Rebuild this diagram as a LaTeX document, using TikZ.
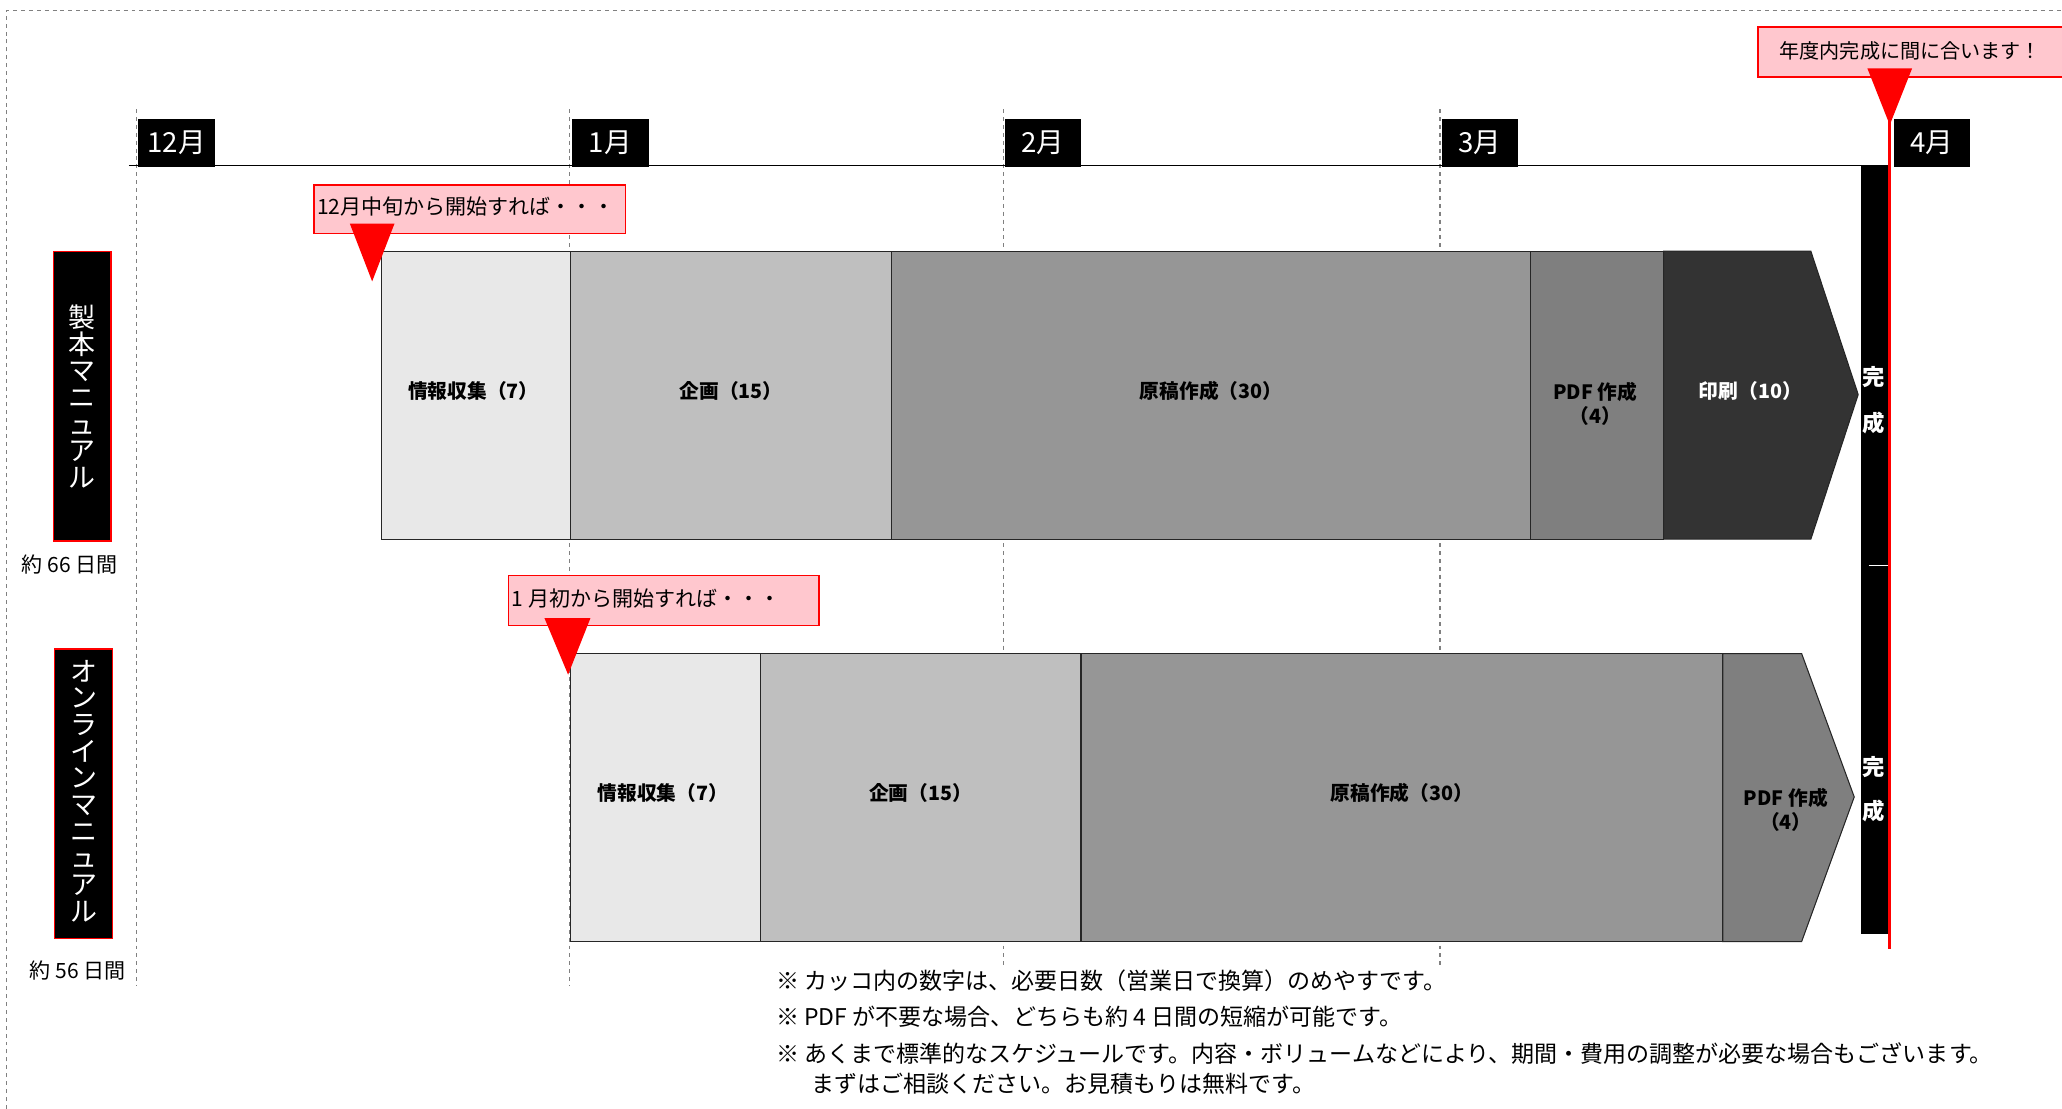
\documentclass[tikz,border=0pt]{standalone}
\usepackage{fontspec}
\setmainfont{Noto Sans CJK JP}
\definecolor{pinkc}{HTML}{FFC7CE}
\definecolor{cA}{HTML}{E8E8E8}
\definecolor{cB}{HTML}{BFBFBF}
\definecolor{cC}{HTML}{969696}
\definecolor{cD}{HTML}{7F7F7F}
\definecolor{cE}{HTML}{333333}
\definecolor{edgec}{HTML}{262626}
\definecolor{redc}{HTML}{FF0000}
\begin{document}
\begin{tikzpicture}[x=1pt,y=-1pt,
  month/.style={fill=black,text=white,minimum width=58pt,minimum height=37pt,inner sep=0pt,anchor=north west,font=\fontsize{21}{21}\selectfont},
  callbox/.style={fill=pinkc,draw=redc,line width=1.3pt,inner sep=0pt,anchor=north west},
  calltext/.style={font=\fontsize{16}{16}\selectfont,anchor=west,inner sep=0pt},
  seg/.style={draw=edgec,line width=0.8pt},
  lbl/.style={font=\bfseries\fontsize{15}{18}\selectfont,align=center,inner sep=0pt},
  guide/.style={draw=gray,dashed,line width=1pt},
  side/.style={fill=black,draw=redc,line width=1pt,minimum width=44pt,inner sep=0pt,anchor=north west},
  sidetext/.style={text=white,align=center,font=\fontsize{20.5}{20.3}\selectfont,inner sep=0pt},
  days/.style={font=\fontsize{16}{16}\selectfont,inner sep=0pt},
  note/.style={font=\fontsize{17.5}{17.5}\selectfont,anchor=west,inner sep=0pt},
  donetext/.style={text=white,font=\bfseries\fontsize{17}{17}\selectfont,inner sep=0pt}]
\useasboundingbox (0,0) rectangle (1568,843);
% outer frame
\draw[dashed,gray,line width=0.8pt] (5,843) -- (5,8) -- (1568,8);
% guides
\draw[guide] (104,83) -- (104,750);
\draw[guide] (433,83) -- (433,750);
\draw[guide] (763,83) -- (763,735);
\draw[guide] (1095,83) -- (1095,735);
% axis
\coordinate (axL) at (98,126);
\coordinate (axR) at (1437,126);
\draw[line width=1pt] (axL) -- (axR);
% months
\node[month] (m12) at (105,90) {12月};
\node[month] (m1) at (435,90) {1月};
\node[month] (m2) at (764,90) {2月};
\node[month] (m3) at (1096,90) {3月};
\node[month] (m4) at (1440,90) {4月};
% upper bar
\filldraw[seg,fill=cA] (290,191) rectangle (434,410);
\filldraw[seg,fill=cB] (434,191) rectangle (678,410);
\filldraw[seg,fill=cC] (678,191) rectangle (1164,410);
\filldraw[seg,fill=cD] (1164,191) rectangle (1265,410);
\filldraw[seg,fill=cE] (1265,191) -- (1377,191) -- (1413,300) -- (1377,410) -- (1265,410) -- cycle;
\node[lbl] (u1) at (360,297) {情報収集（7）};
\node[lbl] (u2) at (556,297) {企画（15）};
\node[lbl] (u3) at (921,297) {原稿作成（30）};
\node[lbl] (u4) at (1213,307) {PDF 作成\\（4）};
\node[lbl,text=white] (u5) at (1331,297) {印刷（10）};
% lower bar
\filldraw[seg,fill=cA] (434,497) rectangle (578,716);
\filldraw[seg,fill=cB] (578,497) rectangle (822,716);
\filldraw[seg,fill=cC] (822,497) rectangle (1310,716);
\filldraw[seg,fill=cD] (1310,497) -- (1370,497) -- (1410,606) -- (1370,716) -- (1310,716) -- cycle;
\node[lbl] (l1) at (504,603) {情報収集（7）};
\node[lbl] (l2) at (700,603) {企画（15）};
\node[lbl] (l3) at (1066,603) {原稿作成（30）};
\node[lbl] (l4) at (1358,616) {PDF 作成\\（4）};
% completion bar
\fill[black] (1415,126) rectangle (1437,710);
\draw[white,line width=1pt] (1421,430) -- (1436,430);
\node[donetext] (d1) at (1425,287) {完};
\node[donetext] (d2) at (1425,322) {成};
\node[donetext] (d3) at (1425,583) {完};
\node[donetext] (d4) at (1425,617) {成};
% red line
\draw[redc,line width=2.5pt] (1437,90) -- (1437,722);
% callouts
\node[callbox,minimum width=237pt,minimum height=37pt] (c1) at (238,140) {};
\node[calltext] (c1t) at (241,157) {12月中旬から開始すれば・・・};
\fill[redc] (266,170) -- (300,170) -- (283,214) -- cycle;
\node[callbox,minimum width=236pt,minimum height=38pt] (c2) at (386,437) {};
\node[calltext] (c2t) at (389,455) {1 月初から開始すれば・・・};
\fill[redc] (414,470) -- (449,470) -- (432,513) -- cycle;
\node[callbox,minimum width=240pt,minimum height=38pt] (c3) at (1336,20) {};
\node[calltext,font=\fontsize{15.3}{15.3}\selectfont] (c3t) at (1353,39) {年度内完成に間に合います！};
\fill[redc] (1420,52) -- (1454,52) -- (1437,95) -- cycle;
% side labels
\node[side,minimum height=220pt] (s1) at (40,191) {};
\node[sidetext] (s1t) at (s1.center) {製\\本\\マ\\ニ\\ュ\\ア\\ル};
\node[days] (s1d) at (53,429) {約 66 日間};
\node[side,minimum height=220pt] (s2) at (41,493) {};
\node[sidetext] (s2t) at ([yshift=2pt]s2.center) {オ\\ン\\ラ\\イ\\ン\\マ\\ニ\\ュ\\ア\\ル};
\node[days] (s2d) at (59,738) {約 56 日間};
% notes
\node[note] (n1) at (590,746) {※ カッコ内の数字は、必要日数（営業日で換算）のめやすです。};
\node[note] (n2) at (590,773) {※ PDF が不要な場合、どちらも約 4 日間の短縮が可能です。};
\node[note] (n3) at (590,801) {※ あくまで標準的なスケジュールです。内容・ボリュームなどにより、期間・費用の調整が必要な場合もございます。};
\node[note] (n4) at (617,824) {まずはご相談ください。お見積もりは無料です。};
\end{tikzpicture}
\end{document}
